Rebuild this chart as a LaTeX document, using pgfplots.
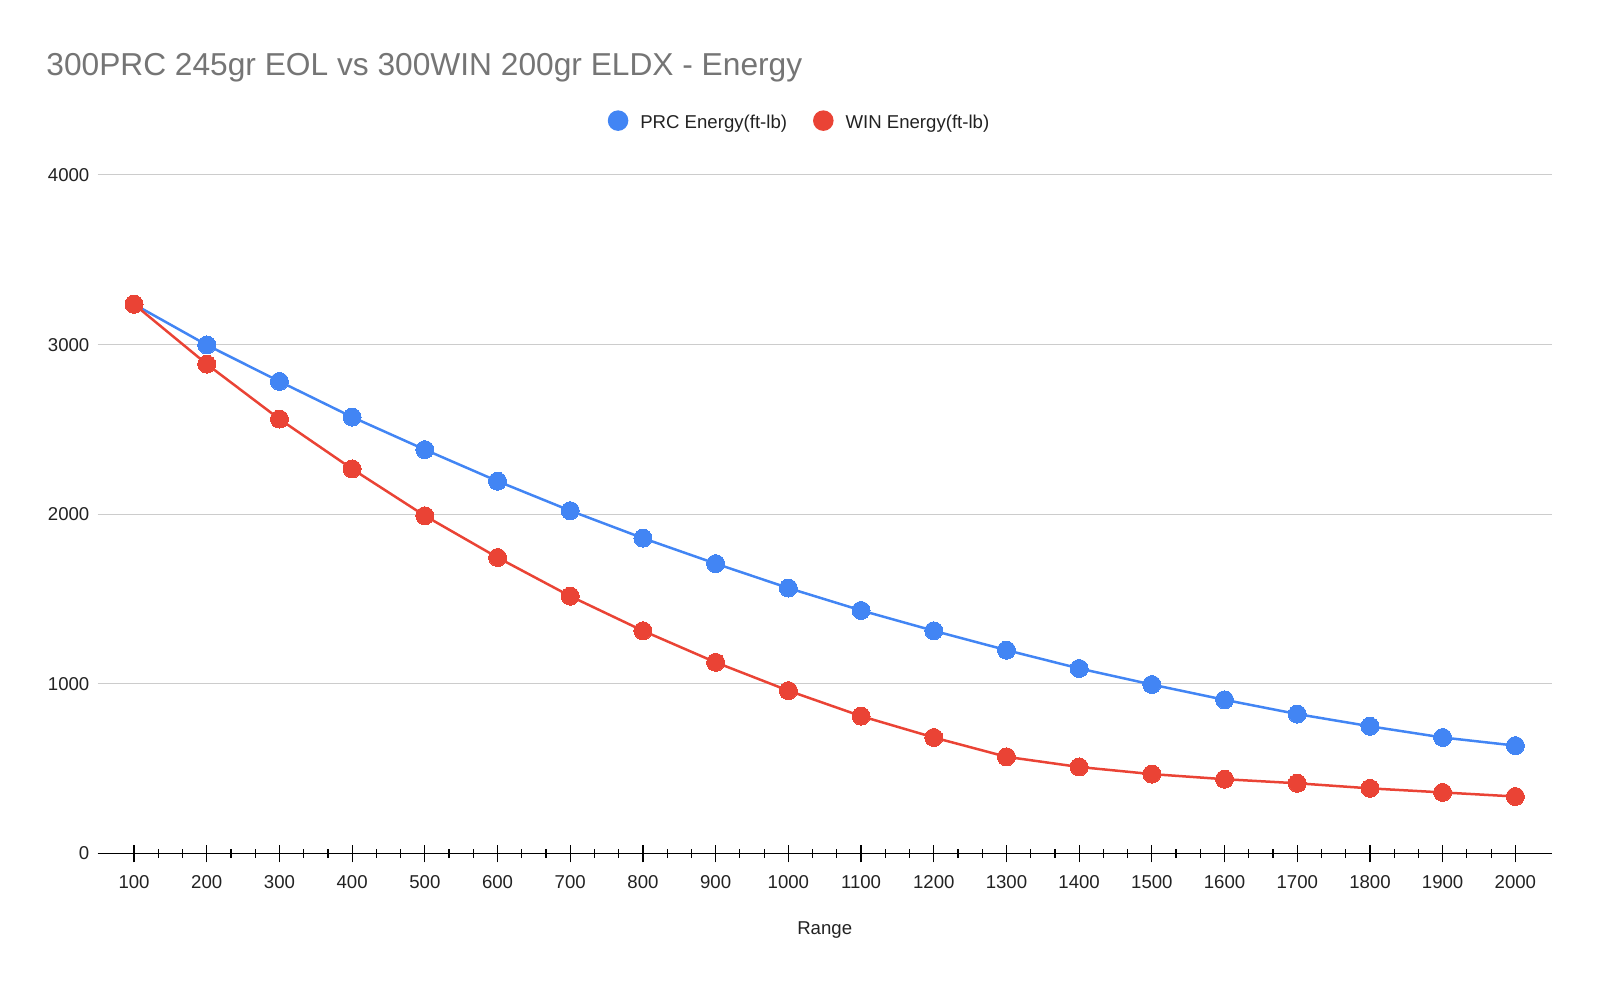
\documentclass[border=0pt]{standalone}
\usepackage{pgfplots}
\pgfplotsset{compat=1.18}
\usepackage{fontspec}
\setmainfont{Liberation Sans}
\definecolor{prcblue}{HTML}{4285F4}
\definecolor{winred}{HTML}{EA4335}
\definecolor{titlegrey}{HTML}{757575}
\definecolor{gridgrey}{HTML}{CCCCCC}
\definecolor{txt}{HTML}{222222}
\pgfplotstableread{
x prc win
100 3238 3238
200 2998 2885
300 2783 2561
400 2573 2267
500 2381 1991
600 2195 1745
700 2021 1517
800 1859 1313
900 1709 1127
1000 1565 960
1100 1433 810
1200 1313 684
1300 1199 570
1400 1091 510
1500 996 468
1600 906 438
1700 822 414
1800 750 384
1900 684 360
2000 636 336
}\datatable
\begin{document}
\begin{tikzpicture}
\begin{axis}[
  at={(0,0)}, anchor=south west,
  scale only axis, width=727bp, height=339.25bp,
  xmin=50, xmax=2050, ymin=0, ymax=4000,
  xtick={100,200,...,2000}, minor x tick num=2,
  ytick={0,1000,2000,3000,4000},
  axis x line*=bottom, axis y line*=left,
  x axis line style={-, black, line width=0.7bp},
  y axis line style={draw=none},
  tick align=center,
  xtick style={black, line width=0.6bp},
  ytick style={draw=none},
  major tick length=9bp, minor tick length=4.5bp,
  ymajorgrids, grid style={gridgrey, line width=0.5bp},
  /pgf/number format/assume math mode=true,
  xticklabel={\pgfmathprintnumber[fixed,1000 sep={}]{\tick}},
  yticklabel={\pgfmathprintnumber[fixed,1000 sep={}]{\tick}},
  tick label style={font=\fontsize{9.3bp}{11bp}\selectfont, text=txt},
  xticklabel style={anchor=north, inner sep=0pt, yshift=-6.5bp},
  yticklabel style={anchor=east, inner sep=0pt, xshift=0.5bp},
  xlabel={Range},
  xlabel style={at={(axis description cs:0.5,0)}, anchor=center, yshift=-38.5bp, font=\fontsize{9.3bp}{11bp}\selectfont, text=txt},
  legend columns=2,
  legend style={at={(0.482,1.0797)}, anchor=center, draw=none, fill=none,
    font=\fontsize{9.3bp}{11bp}\selectfont, text=txt, inner sep=0pt,
    nodes={inner sep=0pt},
    /tikz/every odd column/.append style={column sep=6bp},
    /tikz/every even column/.append style={column sep=13bp}},
  legend image code/.code={\fill[#1] (0bp,1.3bp) circle (4.5bp);},
  clip=false,
]
\addplot[color=prcblue, line width=1.25bp, mark=*, mark size=4.5bp, mark options={fill=prcblue, draw=prcblue, line width=0pt}] table[x=x,y=prc]{\datatable};
\addlegendentry{PRC Energy(ft-lb)}
\addplot[color=winred, line width=1.25bp, mark=*, mark size=4.5bp, mark options={fill=winred, draw=winred, line width=0pt}] table[x=x,y=win]{\datatable};
\addlegendentry{WIN Energy(ft-lb)}
\end{axis}
\node[anchor=base west, inner sep=0pt, text=titlegrey, font=\fontsize{15.85bp}{19bp}\selectfont] at (-25.85bp,389bp) {300PRC 245gr EOL vs 300WIN 200gr ELDX - Energy};
\path[use as bounding box] (-48.85bp,-66.75bp) rectangle ++(800bp,493.5bp);
\end{tikzpicture}
\end{document}
